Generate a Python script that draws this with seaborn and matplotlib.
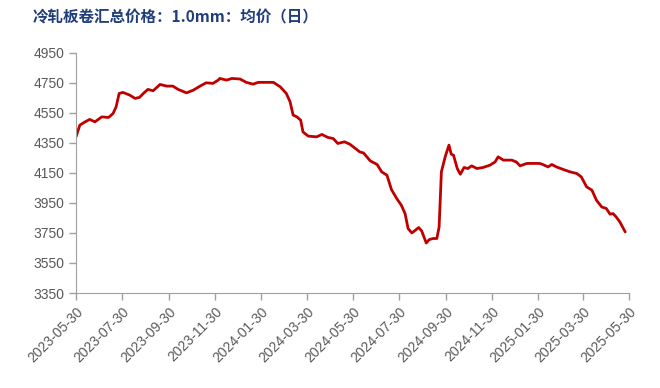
import pandas as pd
import seaborn as sns
import matplotlib.dates as mdates
from matplotlib import pyplot as plt

# Price series (yuan/t)
dates = [
    '2023-05-30', '2023-06-04', '2023-06-11', '2023-06-17', '2023-06-24', '2023-07-03',
    '2023-07-12', '2023-07-18', '2023-07-22', '2023-07-26', '2023-07-31', '2023-08-09',
    '2023-08-16', '2023-08-22', '2023-08-27', '2023-09-02', '2023-09-09', '2023-09-18',
    '2023-09-27', '2023-10-05', '2023-10-12', '2023-10-23', '2023-11-01', '2023-11-10',
    '2023-11-18', '2023-11-27', '2023-12-04', '2023-12-06', '2023-12-15', '2023-12-22',
    '2024-01-02', '2024-01-10', '2024-01-19', '2024-01-26', '2024-02-15', '2024-02-24',
    '2024-03-03', '2024-03-08', '2024-03-12', '2024-03-17', '2024-03-22', '2024-03-25',
    '2024-04-01', '2024-04-12', '2024-04-19', '2024-04-27', '2024-05-04', '2024-05-10',
    '2024-05-19', '2024-05-26', '2024-06-04', '2024-06-08', '2024-06-13', '2024-06-22',
    '2024-07-01', '2024-07-07', '2024-07-14', '2024-07-20', '2024-07-27', '2024-08-02',
    '2024-08-07', '2024-08-11', '2024-08-16', '2024-08-25', '2024-08-29', '2024-09-04',
    '2024-09-08', '2024-09-13', '2024-09-18', '2024-09-21', '2024-09-24', '2024-09-29',
    '2024-10-04', '2024-10-07', '2024-10-10', '2024-10-15', '2024-10-19', '2024-10-24',
    '2024-10-29', '2024-11-03', '2024-11-10', '2024-11-18', '2024-11-27', '2024-12-04',
    '2024-12-08', '2024-12-15', '2024-12-26', '2025-01-01', '2025-01-06', '2025-01-15',
    '2025-02-01', '2025-02-05', '2025-02-12', '2025-02-17', '2025-02-23', '2025-03-04',
    '2025-03-13', '2025-03-22', '2025-03-28', '2025-04-04', '2025-04-11', '2025-04-17',
    '2025-04-24', '2025-04-30', '2025-05-05', '2025-05-09', '2025-05-13', '2025-05-18',
    '2025-05-25',
]
prices = [
    4390, 4468, 4490, 4506, 4490, 4523,
    4519, 4546, 4590, 4679, 4686, 4668,
    4646, 4653, 4679, 4706, 4697, 4739,
    4728, 4728, 4706, 4683, 4701, 4728,
    4750, 4746, 4768, 4779, 4768, 4779,
    4775, 4753, 4741, 4753, 4753, 4723,
    4679, 4623, 4535, 4523, 4501, 4423,
    4395, 4390, 4406, 4386, 4379, 4346,
    4357, 4341, 4306, 4290, 4283, 4230,
    4206, 4157, 4135, 4039, 3979, 3935,
    3879, 3779, 3750, 3786, 3763, 3683,
    3706, 3713, 3713, 3790, 4157, 4257,
    4335, 4275, 4268, 4179, 4141, 4186,
    4179, 4197, 4179, 4186, 4201, 4223,
    4257, 4235, 4235, 4223, 4197, 4213,
    4213, 4206, 4190, 4206, 4190, 4173,
    4157, 4146, 4123, 4057, 4035, 3968,
    3923, 3913, 3875, 3879, 3857, 3823,
    3757,
]
tick_dates = [
    '2023-05-30', '2023-07-30', '2023-09-30', '2023-11-30', '2024-01-30', '2024-03-30',
    '2024-05-30', '2024-07-30', '2024-09-30', '2024-11-30', '2025-01-30', '2025-03-30',
    '2025-05-30',
]
y_ticks = [3350, 3550, 3750, 3950, 4150, 4350, 4550, 4750, 4950]
title = '冷轧板卷汇总价格：1.0mm：均价（日）'

df = pd.DataFrame({'date': pd.to_datetime(dates), 'price': prices})

sns.set_style('ticks')
plt.rcParams['font.family'] = ['Liberation Sans', 'Noto Sans CJK SC', 'DejaVu Sans']

fig = plt.figure(figsize=(6.6, 3.88), dpi=100)
ax = fig.add_axes([0.1152, 0.2448, 0.8378, 0.6192])

sns.lineplot(data=df, x='date', y='price', color='#C00000', linewidth=2.0, ax=ax)

ticks = pd.to_datetime(tick_dates)
ax.set_xlim(ticks[0], ticks[-1])
ax.set_xticks(ticks)
ax.xaxis.set_major_formatter(mdates.DateFormatter('%Y-%m-%d'))
ax.set_ylim(3350, 4950)
ax.set_yticks(y_ticks)
ax.set(xlabel='', ylabel='')

ax.tick_params(axis='both', colors='#a0a0a0', labelcolor='#595959', labelsize=10,
               length=5, width=1)
plt.setp(ax.get_xticklabels(), rotation=45, ha='right', rotation_mode='anchor')
for side in ['left', 'bottom']:
    ax.spines[side].set_color('#a0a0a0')
sns.despine(ax=ax)

fig.text(0.05, 0.955, title, color='#1F3E7A', fontsize=11.2, fontweight='bold',
         family=['Noto Sans CJK SC', 'DejaVu Sans'], va='center', ha='left')

fig.savefig('out.png', dpi=100)
